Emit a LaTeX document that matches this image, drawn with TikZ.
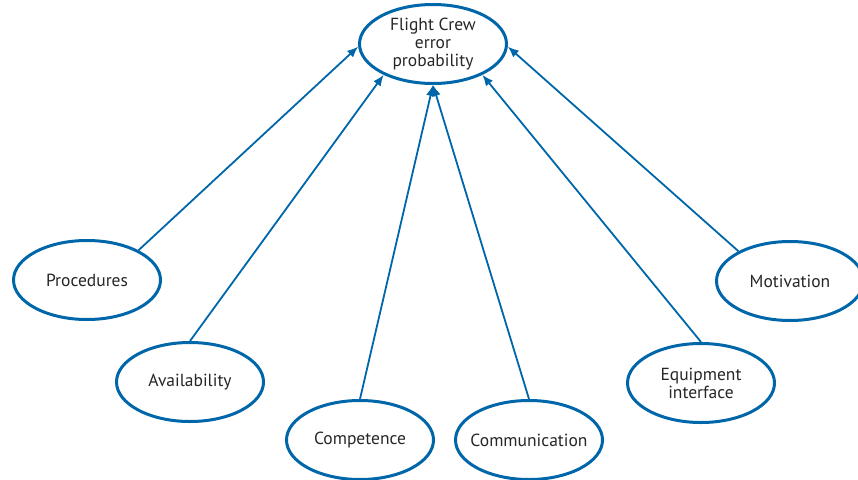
\documentclass[tikz,border=0pt]{standalone}
\usepackage{fontspec}
\setmainfont{PT Sans}
\usetikzlibrary{arrows.meta,shapes.geometric}
\definecolor{pifblue}{RGB}{0,102,170}

\begin{document}
\begin{tikzpicture}[x=1pt,y=-1pt,
  factor/.style={ellipse,draw=pifblue,line width=3pt,minimum width=147pt,
    minimum height=79pt,inner xsep=-10pt,inner ysep=0pt,text=black!85,
    align=center,font=\fontsize{17.5}{18}\selectfont},
  link/.style={draw=pifblue,line width=1.8pt,-{Latex[length=11pt,width=9pt]}}]
\useasboundingbox (0,0) rectangle (858,479);
\node[factor] (fce) at (433,44) {Flight Crew\\error\\probability};
\node[factor] (proc) at (87,280) {Procedures};
\node[factor] (avail) at (190,382) {Availability};
\node[factor] (comp) at (360,440) {Competence};
\node[factor] (comm) at (529,440) {Communication};
\node[factor] (equip) at (701,383) {Equipment\\interface};
\node[factor] (motiv) at (790,281) {Motivation};
\draw[link] (proc.30) -- (fce.182);
\draw[link] (avail.north) -- (fce.212);
\draw[link] (comp.north) -- (fce.south);
\draw[link] (comm.north) -- (fce.south);
\draw[link] (equip.north) -- (fce.328);
\draw[link] (motiv.150) -- (fce.358);
\end{tikzpicture}
\end{document}
